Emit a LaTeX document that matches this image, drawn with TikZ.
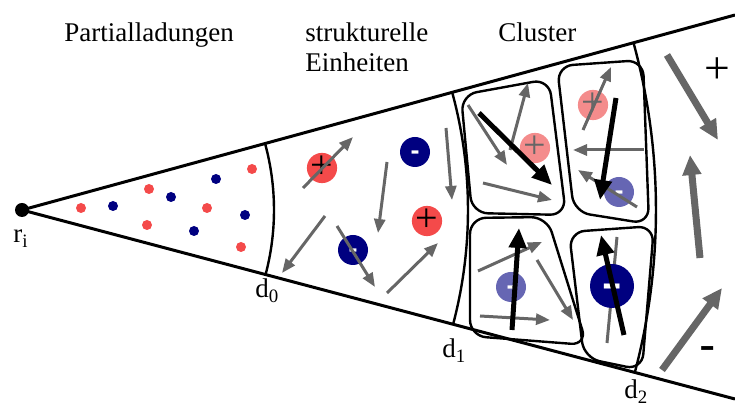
\documentclass[tikz,border=0pt]{standalone}
\usepackage{fontspec}
\setmainfont{Liberation Serif}
\newfontfamily\signfont{Liberation Sans}
\usetikzlibrary{arrows.meta,calc}

\definecolor{qred}{RGB}{244,74,74}
\definecolor{qblue}{RGB}{0,0,128}
\definecolor{palered}{RGB}{244,140,140}
\definecolor{paleblue}{RGB}{102,102,179}
\definecolor{dipgray}{RGB}{102,102,102}

\begin{document}
\begin{tikzpicture}[x=0.5pt, y=-0.5pt, font=\fontsize{13.5}{16}\selectfont,
    wedge/.style={line width=1.5pt},
    shell/.style={line width=1.2pt},
    cluster/.style={line width=1.2pt, rounded corners=8pt},
    caption/.style={anchor=base west, inner sep=0pt},
    partial/.style={circle, inner sep=0pt, minimum size=5pt},
    ion/.style={circle, inner sep=0pt, minimum size=15pt},
    bigion/.style={circle, inner sep=0pt, minimum size=22pt},
    plussign/.style={font=\fontsize{20}{20}\selectfont, text height=10.1pt, text depth=0pt},
    minussign/.style={font=\signfont\bfseries\fontsize{13.5}{14}\selectfont, text=white, text height=7.3pt, text depth=0pt},
    dipole/.style={dipgray, line width=1.5pt, -{Triangle[length=7pt,width=5.5pt]}},
    clusterdip/.style={black, line width=2.5pt, -{Triangle[length=10pt,width=8.5pt]}},
    bulkdip/.style={dipgray, line width=3.5pt, -{Triangle[length=10pt,width=9pt]}}]
  \useasboundingbox (0,0) rectangle (735,405);

  % wedge and shells
  \node[circle, fill, inner sep=0pt, minimum size=7pt] (ri) at (22,210) {};
  \draw[wedge] (ri.center) -- (735,15);
  \draw[wedge] (ri.center) -- (735,399);
  \draw[shell] ($(ri)+(-15.32:252)$) arc[start angle=-15.32, end angle=14.84, radius=252];
  \draw[shell] ($(ri)+(-15.32:446)$) arc[start angle=-15.32, end angle=14.84, radius=446];
  \draw[shell] ($(ri)+(-15.32:634)$) arc[start angle=-15.32, end angle=14.84, radius=634];

  \node[caption] (rlabel) at (13,243) {r\textsubscript{i}};
  \node[caption] (d0) at (255,298) {d\textsubscript{0}};
  \node[caption] (d1) at (442,358) {d\textsubscript{1}};
  \node[caption] (d2) at (624,399) {d\textsubscript{2}};

  % headings
  \node[caption] (hpartial) at (64,42) {Partialladungen};
  \node[caption] (hstruct) at (305,42) {strukturelle};
  \node[caption] (hunits) at (305,72) {Einheiten};
  \node[caption] (hcluster) at (498,42) {Cluster};

  % partial charges
  \node[partial, fill=qred]  (q1)  at (81,208) {};
  \node[partial, fill=qblue] (q2)  at (113,206) {};
  \node[partial, fill=qred]  (q3)  at (149,189) {};
  \node[partial, fill=qblue] (q4)  at (171,197) {};
  \node[partial, fill=qred]  (q5)  at (147,225) {};
  \node[partial, fill=qblue] (q6)  at (216,179) {};
  \node[partial, fill=qred]  (q7)  at (207,208) {};
  \node[partial, fill=qblue] (q8)  at (194,231) {};
  \node[partial, fill=qred]  (q9)  at (252,169) {};
  \node[partial, fill=qblue] (q10) at (245,215) {};
  \node[partial, fill=qred]  (q11) at (241,247) {};

  % structural units
  \node[ion, fill=qred, plussign]   (sp1) at (322,168) {+};
  \node[ion, fill=qblue, minussign] (sn1) at (415,152) {-};
  \node[ion, fill=qred, plussign]   (sp2) at (427,221) {+};
  \node[ion, fill=qblue, minussign] (sn2) at (353,250) {-};
  \draw[dipole] (303,188) -- (353,137);
  \draw[dipole] (387,162) -- (378,233);
  \draw[dipole] (325,216) -- (282,273);
  \draw[dipole] (337,226) -- (375,287);
  \draw[dipole] (446,128) -- (452,200);
  \draw[dipole] (387,293) -- (438,243);

  % clusters
  \draw[cluster] (461,95) -- (549,79) -- (566,215) -- (472,213) -- cycle;
  \draw[cluster] (557,66) -- (643,60) -- (649,224) -- (574,212) -- cycle;
  \draw[cluster] (470,218) -- (547,217) -- (587,345) -- (470,336) -- cycle;
  \draw[cluster] (569,232) -- (654,226) -- (642,370) -- (584,358) -- cycle;

  \node[ion, fill=palered, plussign, text=dipgray] (cp1) at (535,148) {+};
  \draw[dipole] (510,150) -- (528,83);
  \draw[dipole] (468,105) -- (507,165);
  \draw[dipole] (483,183) -- (552,200);
  \draw[clusterdip] (479,113) -- (552,185);

  \node[ion, fill=palered, plussign, text=dipgray] (cp2) at (593,105) {+};
  \node[ion, fill=paleblue, minussign] (cn1) at (619,192) {-};
  \draw[dipole] (583,130) -- (611,67);
  \draw[dipole] (644,150) -- (573,150);
  \draw[dipole] (637,207) -- (578,170);
  \draw[clusterdip] (616,98) -- (600,200);

  \node[ion, fill=paleblue, minussign] (cn2) at (511,287) {-};
  \draw[dipole] (478,271) -- (542,242);
  \draw[dipole] (537,260) -- (573,320);
  \draw[dipole] (480,316) -- (550,320);
  \draw[clusterdip] (512,330) -- (519,228);

  \draw[dipgray, line width=1.5pt] (607,343) -- (617,237);
  \node[bigion, fill=qblue, minussign, font=\signfont\fontsize{32}{32}\selectfont, text height=17.5pt] (cn3) at (612,286) {-};
  \draw[clusterdip] (624,335) -- (601,235);

  % bulk
  \node[font=\fontsize{22.8}{23}\selectfont, text height=11.5pt, text depth=0pt] (bplus) at (717,72) {+};
  \node[font=\signfont\fontsize{24.5}{25}\selectfont, text height=13.4pt, text depth=0pt] (bminus) at (708,348) {-};
  \draw[bulkdip] (667,55) -- (718,140);
  \draw[bulkdip] (700,258) -- (690,155);
  \draw[bulkdip] (662,370) -- (722,288);
\end{tikzpicture}
\end{document}
